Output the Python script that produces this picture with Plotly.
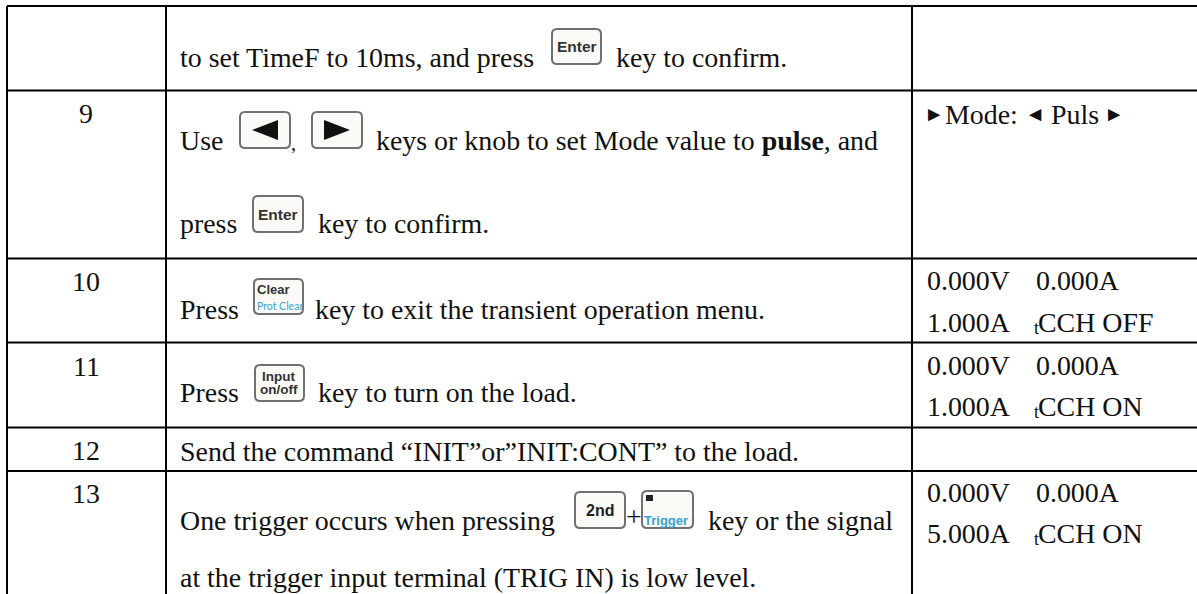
import plotly.graph_objects as go

W, H = 1197, 594
SERIF = "Liberation Serif"
SANS = "Liberation Sans"
SIZE = 27.9
INK = "#111111"
CYAN = "#35a4d0"

# Table grid
row_rules = [6, 90.5, 258.5, 342.5, 427.5, 471]
col_rules = [7, 166, 912]

# Step numbers: label, centre y
step_labels = ["9", "10", "11", "12", "13"]
step_y = [113, 281, 366, 450, 493]

# Body text: text, left x, baseline y
body_text = ["to set TimeF to 10ms, and press", "key to confirm.", "Use",
             "keys or knob to set Mode value to <b>pulse</b>, and", "press", "key to confirm.",
             "Press", "key to exit the transient operation menu.", "Press", "key to turn on the load.",
             "Send the command “INIT”or”INIT:CONT” to the load.",
             "One trigger occurs when pressing", "+", "key or the signal",
             "at the trigger input terminal (TRIG IN) is low level."]
body_x = [180, 616, 180, 376, 180, 318, 180, 315, 180, 318, 180, 180, 626, 708, 180]
body_base = [65, 65, 148, 148, 231, 231, 317, 317, 400, 400, 459, 528, 524, 528, 585]

# Display column: readings in two columns, centre y
display_left = ["0.000V", "1.000A", "0.000V", "1.000A", "0.000V", "5.000A"]
display_right = ["0.000A", "CCH OFF", "0.000A", "CCH ON", "0.000A", "CCH ON"]
display_y = [280.5, 322, 365.5, 406.5, 492.5, 533.5]

# Mode line pieces
mode_text = ["►", "Mode:", "◄", "Puls", "►"]
mode_x = [924, 945, 1025, 1051, 1104]
mode_size = [20.5, 27.9, 20.5, 27.9, 20.5]

# Key caps: name, x0, x1, y0, y1
key_names = ["Enter", "Left", "Right", "Enter", "Clear", "Input", "2nd", "Trigger"]
key_x0 = [552, 240, 312, 253, 254, 255, 575, 642]
key_x1 = [601, 290, 362, 303, 303, 304, 625, 693]
key_y0 = [29, 112, 112, 196, 279, 365, 492, 491]
key_y1 = [64, 148, 148, 232, 314, 401, 528, 528]


def rounded(x0, x1, y0, y1, r=5):
    return (f"M{x0+r},{y0} L{x1-r},{y0} Q{x1},{y0} {x1},{y0+r} L{x1},{y1-r} Q{x1},{y1} {x1-r},{y1} "
            f"L{x0+r},{y1} Q{x0},{y1} {x0},{y1-r} L{x0},{y0+r} Q{x0},{y0} {x0+r},{y0} Z")


shapes, notes = [], []

for y in row_rules:
    shapes.append(dict(type="line", x0=col_rules[0], x1=W, y0=y, y1=y, line=dict(color="#000", width=2)))
for x in col_rules:
    shapes.append(dict(type="line", x0=x, x1=x, y0=row_rules[0], y1=H, line=dict(color="#000", width=2)))


def note(text, x, y, size=SIZE, color=INK, family=SERIF, anchor="left"):
    notes.append(dict(text=text, x=x, y=y, xref="x", yref="y", showarrow=False, xanchor=anchor,
                      yanchor="middle", borderpad=0, borderwidth=0,
                      font=dict(family=family, size=size, color=color)))


BASE_OFFSET = SIZE * 0.27

for lab, y in zip(step_labels, step_y):
    note(lab, 86, y, anchor="center")
for t, x, b in zip(body_text, body_x, body_base):
    note(t, x, b - BASE_OFFSET)
note(",", 291, 150 - 7, size=20)

for left, right, y in zip(display_left, display_right, display_y):
    note(left, 927, y)
    if right.startswith("CCH"):
        note("t", 1034, y + 5.5, size=18)
        note(right, 1038, y)
    else:
        note(right, 1036, y)
for t, x, s in zip(mode_text, mode_x, mode_size):
    note(t, x, 114, size=s)

for name, x0, x1, y0, y1 in zip(key_names, key_x0, key_x1, key_y0, key_y1):
    shapes.append(dict(type="path", path=rounded(x0, x1, y0, y1), fillcolor="#fbfaf7",
                       line=dict(color="#707070", width=2)))
    cx, cy = (x0 + x1) / 2, (y0 + y1) / 2
    if name == "Enter":
        note("<b>Enter</b>", cx, cy, size=15.5, color="#333", family=SANS, anchor="center")
    elif name == "Left":
        shapes.append(dict(type="path", path=f"M{x0+12},{cy} L{x1-12},{cy-10} L{x1-12},{cy+10} Z",
                           fillcolor="#111", line=dict(width=0)))
    elif name == "Right":
        shapes.append(dict(type="path", path=f"M{x1-12},{cy} L{x0+12},{cy-10} L{x0+12},{cy+10} Z",
                           fillcolor="#111", line=dict(width=0)))
    elif name == "Clear":
        note("<b>Clear</b>", x0 + 3, y0 + 10, size=13, color="#333", family=SANS)
        note("Prot Clear", x0 + 3, y0 + 27, size=10.5, color=CYAN, family="Lato")
    elif name == "Input":
        note("<b>Input</b>", cx - 1, cy - 7, size=13.5, color="#333", family=SANS, anchor="center")
        note("<b>on/off</b>", cx - 1, cy + 6, size=13.5, color="#333", family=SANS, anchor="center")
    elif name == "2nd":
        note("<b>2nd</b>", cx, cy, size=16, color="#222", family=SANS, anchor="center")
    elif name == "Trigger":
        shapes.append(dict(type="rect", x0=x0 + 4, x1=x0 + 11, y0=y0 + 4, y1=y0 + 10,
                           fillcolor="#222", line=dict(width=0)))
        note("<b>Trigger</b>", x0 + 2, y1 - 8, size=13, color=CYAN, family=SANS)

fig = go.Figure()
fig.update_layout(
    width=W, height=H, margin=dict(l=0, r=0, t=0, b=0),
    paper_bgcolor="#fff", plot_bgcolor="#fff", showlegend=False,
    xaxis=dict(range=[0, W], visible=False, fixedrange=True),
    yaxis=dict(range=[H, 0], visible=False, fixedrange=True),
    shapes=shapes, annotations=notes,
)
fig.write_html("out.html", config=dict(displayModeBar=False),
               post_script="document.body.style.margin='0';document.body.style.overflow='hidden';")
